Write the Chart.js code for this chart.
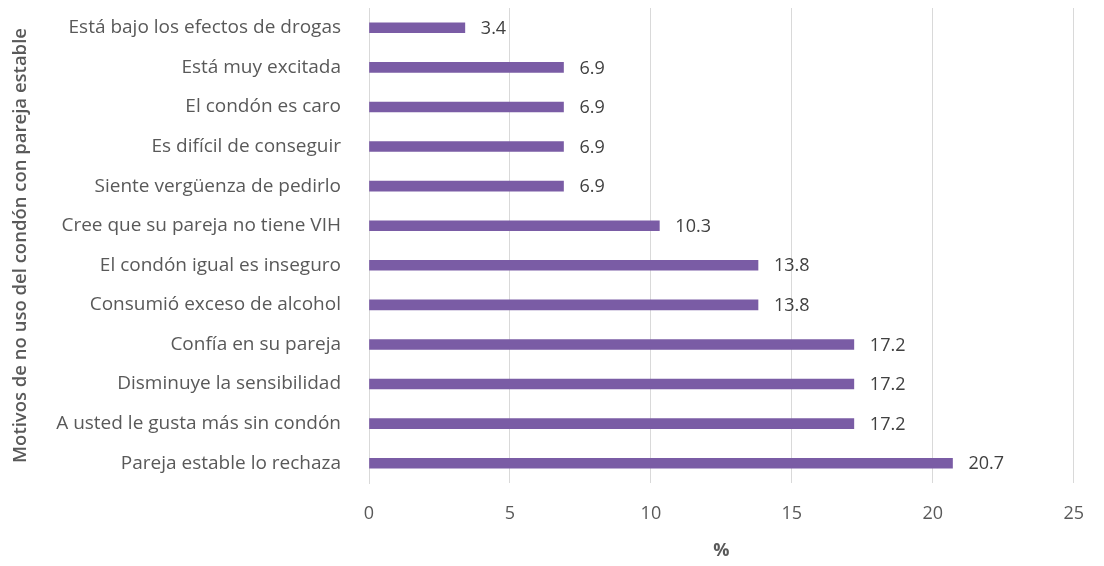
<!DOCTYPE html>
<html>
<head>
<meta charset="utf-8">
<script src="https://cdn.jsdelivr.net/npm/chart.js@4"></script>
<style>
  html, body { margin: 0; padding: 0; background: #fff; }
  #wrap { width: 1104px; height: 566px; position: relative; }
</style>
</head>
<body>
<div id="wrap"><canvas id="chart"></canvas></div>
<script>
// Datos del gráfico (de arriba hacia abajo)
const motivos = [
    'Está bajo los efectos de drogas',
    'Está muy excitada',
    'El condón es caro',
    'Es difícil de conseguir',
    'Siente vergüenza de pedirlo',
    'Cree que su pareja no tiene VIH',
    'El condón igual es inseguro',
    'Consumió exceso de alcohol',
    'Confía en su pareja',
    'Disminuye la sensibilidad',
    'A usted le gusta más sin condón',
    'Pareja estable lo rechaza'
];
const porcentajes = [3.4, 6.9, 6.9, 6.9, 6.9, 10.3, 13.8, 13.8, 17.2, 17.2, 17.2, 20.7];
const xTicks = [0, 5, 10, 15, 20, 25];

const FONT = "'Open Sans', sans-serif";

// Plugin simple para las etiquetas de valor al final de cada barra
const valueLabels = {
    id: 'valueLabels',
    afterDatasetsDraw(chart) {
        const ctx = chart.ctx;
        const meta = chart.getDatasetMeta(0);
        ctx.save();
        ctx.font = '18px ' + FONT;
        ctx.fillStyle = '#404040';
        ctx.textAlign = 'left';
        ctx.textBaseline = 'middle';
        meta.data.forEach((bar, i) => {
            ctx.fillText(porcentajes[i].toFixed(1), bar.x + 16, bar.y + 1);
        });
        ctx.restore();
    }
};

const ctx = document.getElementById('chart').getContext('2d');
const chart = new Chart(ctx, {
    type: 'bar',
    data: {
        labels: motivos,
        datasets: [{
            data: porcentajes,
            backgroundColor: '#7a5ca5',
            barThickness: 10
        }]
    },
    options: {
        indexAxis: 'y',
        responsive: true,
        maintainAspectRatio: false,
        animation: false,
        layout: { padding: { top: 8, right: 22, left: 0, bottom: 0 } },
        plugins: {
            legend: { display: false },
            tooltip: { enabled: false }
        },
        scales: {
            x: {
                min: 0,
                max: 25,
                afterBuildTicks: (scale) => { scale.ticks = xTicks.map(v => ({ value: v })); },
                afterFit: (scale) => { scale.height = 83; },
                grid: { color: '#d9d9d9', drawTicks: false },
                border: { display: false },
                ticks: { color: '#595959', font: { family: FONT, size: 18 }, padding: 20 },
                title: { display: true, text: '%', color: '#595959', font: { family: FONT, size: 18, weight: 'bold' }, padding: { top: 4 } }
            },
            y: {
                afterFit: (scale) => {
                    scale.width = 369;
                    scale.paddingTop = 0;
                    scale.paddingBottom = 0;
                },
                grid: { display: false },
                border: { display: true, color: '#d9d9d9' },
                ticks: { color: '#595959', font: { family: FONT, size: 19 }, padding: 20 },
                title: { display: true, text: 'Motivos de no uso del condón con pareja estable', color: '#595959', font: { family: FONT, size: 18.5, weight: '600' }, padding: { top: 10, bottom: 0 } }
            }
        }
    },
    plugins: [valueLabels]
});
</script>
</body>
</html>
